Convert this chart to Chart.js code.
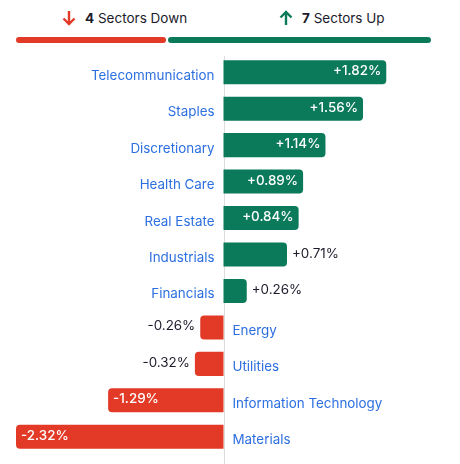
<!DOCTYPE html>
<html>
<head>
<meta charset="utf-8" />
<title>Sectors</title>
<script src="https://cdn.jsdelivr.net/npm/chart.js@4.4.1/dist/chart.umd.min.js"></script>
<style>
  body { margin: 0; background: #fff; font-family: Inter, "Noto Sans", sans-serif; }
  #wrap { position: relative; width: 460px; height: 464px; }
  .head { position: absolute; top: 10px; font-size: 13.5px; color: #1b1b2b; white-space: nowrap; }
  .head b { font-weight: 700; }
  .head svg { vertical-align: -3px; margin-right: 9px; }
  #down { left: 62px; }
  #up { left: 279px; }
  #bar { position: absolute; top: 37px; left: 16px; width: 415px; height: 6px; display: flex; gap: 2px; }
  #bar div { height: 6px; border-radius: 3px; }
  #chart { position: absolute; top: 50px; left: 0; }
</style>
</head>
<body>
<div id="wrap">
  <div class="head" id="down">
    <svg width="14" height="16" viewBox="0 0 14 16"><path d="M7 1 V14 M1.5 8.5 L7 14 L12.5 8.5" fill="none" stroke="#e23a27" stroke-width="2.4"/></svg><b id="downCount"></b> Sectors Down
  </div>
  <div class="head" id="up">
    <svg width="14" height="16" viewBox="0 0 14 16"><path d="M7 15 V2 M1.5 7.5 L7 2 L12.5 7.5" fill="none" stroke="#0b7a5b" stroke-width="2.4"/></svg><b id="upCount"></b> Sectors Up
  </div>
  <div id="bar"><div id="redPart" style="background:#e23a27"></div><div id="greenPart" style="background:#0b7a5b"></div></div>
  <canvas id="chart" width="460" height="414"></canvas>
</div>

<script>
  // donnees
  var sectors = ["Telecommunication", "Staples", "Discretionary", "Health Care", "Real Estate",
                 "Industrials", "Financials", "Energy", "Utilities", "Information Technology", "Materials"];
  var changes = [1.82, 1.56, 1.14, 0.89, 0.84, 0.71, 0.26, -0.26, -0.32, -1.29, -2.32];

  var green = "#0b7a5b";
  var red = "#e23a27";
  var blue = "#2c6fe0";
  var font = "13.4px Inter";

  var nUp = changes.filter(v => v > 0).length;
  var nDown = changes.filter(v => v < 0).length;
  document.getElementById("upCount").textContent = nUp;
  document.getElementById("downCount").textContent = nDown;
  document.getElementById("redPart").style.flex = nDown;
  document.getElementById("greenPart").style.flex = nUp;

  var lim = Math.max.apply(null, changes.map(Math.abs));

  var labelsPlugin = {
    id: "labelsPlugin",
    beforeDatasetsDraw(chart) {
      var ctx = chart.ctx, x = chart.scales.x;
      var x0 = Math.round(x.getPixelForValue(0)) + 0.5;
      ctx.save();
      ctx.strokeStyle = "#dcdcdc";
      ctx.lineWidth = 1;
      ctx.beginPath();
      ctx.moveTo(x0, chart.chartArea.top + 2);
      ctx.lineTo(x0, chart.height);
      ctx.stroke();
      ctx.restore();
    },
    afterDatasetsDraw(chart) {
      var ctx = chart.ctx, x = chart.scales.x, y = chart.scales.y;
      var x0 = x.getPixelForValue(0);
      ctx.save();
      ctx.font = font;
      ctx.textBaseline = "middle";
      changes.forEach(function (v, i) {
        var yc = y.getPixelForValue(i);
        var xe = x.getPixelForValue(v);
        // nom du secteur
        ctx.fillStyle = blue;
        if (v >= 0) { ctx.textAlign = "right"; ctx.fillText(sectors[i], x0 - 9, yc + 3.5); }
        else { ctx.textAlign = "left"; ctx.fillText(sectors[i], x0 + 9, yc + 3.5); }
        // valeur
        var txt = (v > 0 ? "+" : "") + v.toFixed(2) + "%";
        var w = ctx.measureText(txt).width;
        var inside = Math.abs(xe - x0) >= w + 20;
        ctx.font = inside ? "500 " + font : font;
        ctx.fillStyle = inside ? "#fff" : "#1b1b2b";
        if (v >= 0) {
          ctx.textAlign = inside ? "right" : "left";
          ctx.fillText(txt, inside ? xe - 5 : xe + 5, yc - 1);
        } else {
          ctx.textAlign = inside ? "left" : "right";
          ctx.fillText(txt, inside ? xe + 5 : xe - 5, yc - 1);
        }
        ctx.font = font;
      });
      ctx.restore();
    }
  };

  new Chart(document.getElementById("chart").getContext("2d"), {
    type: "bar",
    data: {
      labels: sectors,
      datasets: [{
        data: changes,
        backgroundColor: changes.map(v => v >= 0 ? green : red),
        borderRadius: 4,
        borderSkipped: "start",
        barPercentage: 0.66,
        categoryPercentage: 1
      }]
    },
    options: {
      indexAxis: "y",
      responsive: false,
      animation: false,
      layout: { padding: { left: 16, right: 29, top: 4, bottom: 9 } },
      plugins: { legend: { display: false }, tooltip: { enabled: false } },
      scales: {
        x: { display: false, min: -lim, max: lim },
        y: { display: false }
      }
    },
    plugins: [labelsPlugin]
  });
</script>
</body>
</html>
